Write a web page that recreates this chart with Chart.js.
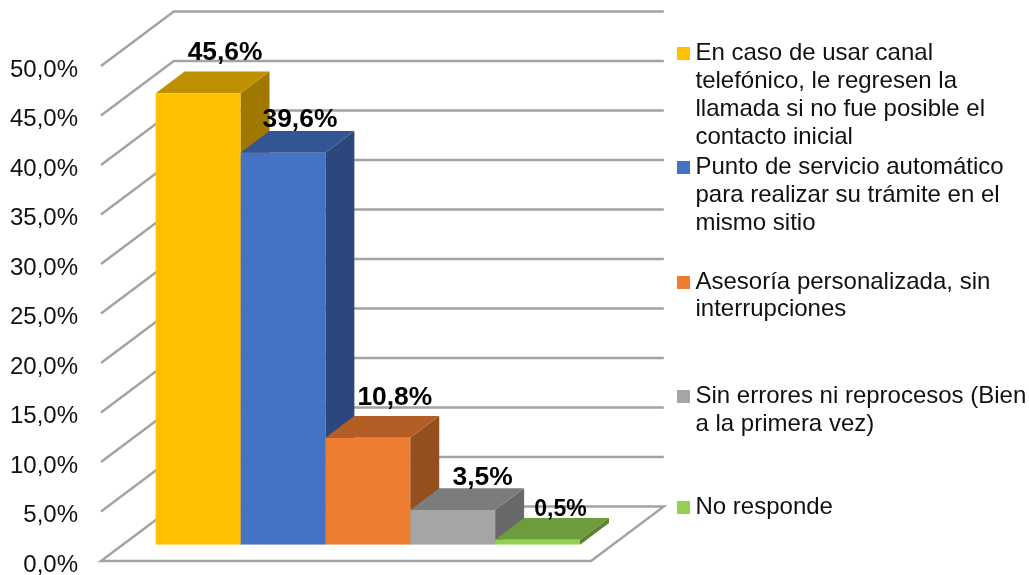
<!DOCTYPE html>
<html lang="es"><head><meta charset="utf-8">
<style>html,body{margin:0;padding:0;background:#fff}canvas{display:block}</style>
<script src="https://cdn.jsdelivr.net/npm/chart.js@4"></script>
</head><body><canvas id="c" width="1029" height="575"></canvas>
<script>
const categories = [''];
const seriesNames = [
  ['En caso de usar canal','telefónico, le regresen la','llamada si no fue posible el','contacto inicial'],
  ['Punto de servicio automático','para realizar su trámite en el','mismo sitio'],
  ['Asesoría personalizada, sin','interrupciones'],
  ['Sin errores ni reprocesos (Bien','a la primera vez)'],
  ['No responde']
];
const seriesValues = [45.6, 39.6, 10.8, 3.5, 0.5];
const valueLabels = ['45,6%','39,6%','10,8%','3,5%','0,5%'];
const tickLabels = ['0,0%','5,0%','10,0%','15,0%','20,0%','25,0%','30,0%','35,0%','40,0%','45,0%','50,0%'];
const frontColors = ['#FFC000','#4472C4','#ED7D31','#A5A5A5','#92D050'];
const topColors   = ['#BF9000','#335593','#B25E25','#7C7C7C','#6D9C3C'];
const sideColors  = ['#A07800','#2B477B','#944F1F','#686868','#5B8333'];

// layout constants
const AREA = {left:122.8, right:612.8, top:49.7, bottom:544.7};
const DEPTH = {x:29, y:21.7};
const WALL_FRONT = {x:-21.8, y:16.3};
const WALL_BACK = {x:51, y:-38.2};
const GRID = '#A3A3A3';
const FONT = '"Liberation Sans", Arial, sans-serif';
const labelOffsets = [[27,-41],[17,-33],[27,-40],[30,-32],[23,-30]];
const labelSizes = [26.4,26.4,26.4,26.4,23];
const legendRowY = [[52,80,108,136],[166,194,222],[281,308],[395,423],[506]];

const cube = {
  id:'cube',
  beforeDatasetsDraw(chart){
    const ctx = chart.ctx, y = chart.scales.y, a = chart.chartArea;
    ctx.save();
    ctx.strokeStyle = GRID; ctx.lineWidth = 2.4;
    y.ticks.forEach((t) => {
      const p = y.getPixelForValue(t.value);
      ctx.beginPath();
      ctx.moveTo(a.left + WALL_FRONT.x, p + WALL_FRONT.y);
      ctx.lineTo(a.left + WALL_BACK.x, p + WALL_BACK.y);
      ctx.lineTo(a.right + WALL_BACK.x, p + WALL_BACK.y);
      if (t.value === 0) {
        ctx.lineTo(a.right + WALL_FRONT.x, p + WALL_FRONT.y);
        ctx.closePath();
      }
      ctx.stroke();
    });
    const poly = (pts, color) => {
      ctx.fillStyle = color; ctx.beginPath();
      pts.forEach((q,i)=> i ? ctx.lineTo(q[0],q[1]) : ctx.moveTo(q[0],q[1]));
      ctx.closePath(); ctx.fill();
    };
    chart.data.datasets.forEach((ds,i) => {
      const b = chart.getDatasetMeta(i).data[0];
      const l = b.x - b.width/2, r = b.x + b.width/2;
      poly([[r,b.y],[r+DEPTH.x,b.y-DEPTH.y],[r+DEPTH.x,b.base-DEPTH.y],[r,b.base]], sideColors[i]);
      poly([[l,b.y],[l+DEPTH.x,b.y-DEPTH.y],[r+DEPTH.x,b.y-DEPTH.y],[r,b.y]], topColors[i]);
    });
    ctx.restore();
  },
  afterDatasetsDraw(chart){
    const ctx = chart.ctx;
    ctx.save();
    ctx.fillStyle = '#000'; ctx.textAlign = 'center'; ctx.textBaseline = 'middle';
    chart.data.datasets.forEach((ds,i) => {
      const b = chart.getDatasetMeta(i).data[0];
      ctx.font = 'bold ' + labelSizes[i] + 'px ' + FONT;
      ctx.fillText(valueLabels[i], b.x + labelOffsets[i][0], b.y + labelOffsets[i][1]);
    });
    ctx.textAlign = 'left';
    ctx.font = '24px ' + FONT;
    seriesNames.forEach((lines,i) => {
      ctx.fillStyle = frontColors[i];
      ctx.fillRect(677, legendRowY[i][0] - 5, 13, 13);
      ctx.fillStyle = '#111';
      lines.forEach((s,j) => ctx.fillText(s, 695.5, legendRowY[i][j] + 1));
    });
    ctx.restore();
  }
};

new Chart(document.getElementById('c'), {
  type:'bar',
  data:{
    labels:categories,
    datasets:seriesValues.map((v,i)=>({
      label:seriesNames[i].join(' '),
      data:[v],
      backgroundColor:frontColors[i],
      borderWidth:0,
      barPercentage:1,
      categoryPercentage:0.866
    }))
  },
  options:{
    responsive:false,
    animation:false,
    layout:{padding:{left:0,right:1029-AREA.right,top:AREA.top,bottom:575-AREA.bottom}},
    plugins:{legend:{display:false},tooltip:{enabled:false}},
    scales:{
      x:{display:false},
      y:{
        min:0,max:50,
        afterFit(s){s.width = AREA.left; s.paddingTop = 0; s.paddingBottom = 0;},
        grid:{display:false,drawTicks:false},
        border:{display:false},
        ticks:{
          stepSize:5,
          padding:44.8,
          labelOffset:20.5,
          color:'#111',
          font:{family:FONT,size:24},
          callback:(v,i)=>tickLabels[i]
        }
      }
    }
  },
  plugins:[cube]
});
</script></body></html>
